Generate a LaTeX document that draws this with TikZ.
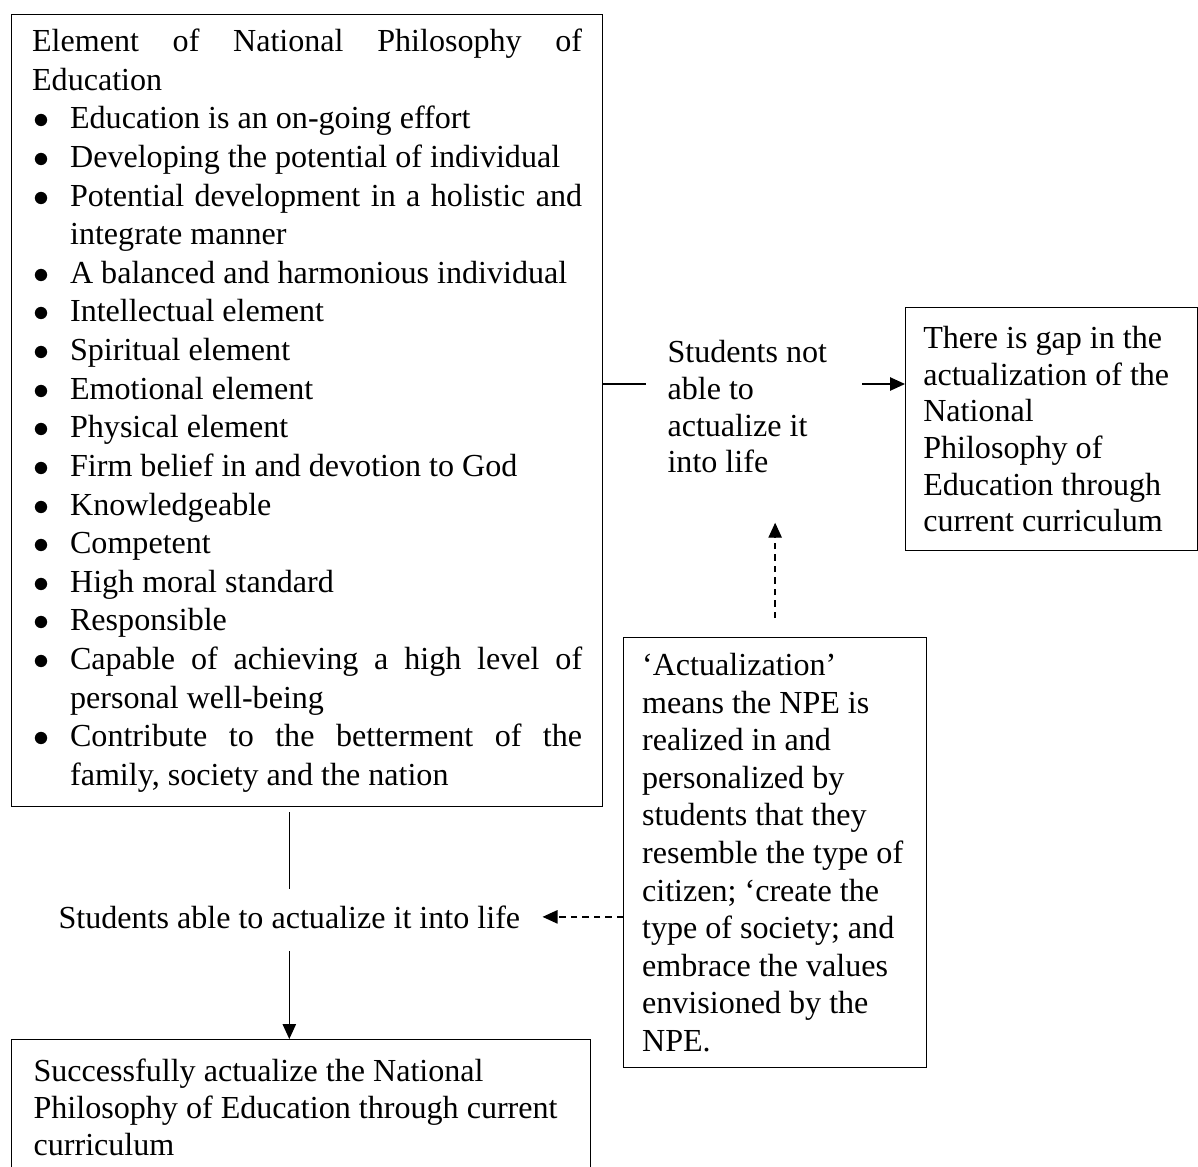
\documentclass[tikz,border=0pt]{standalone}
\usepackage{fontspec}
\setmainfont{Liberation Serif}
\usepackage{tikz}
\usetikzlibrary{arrows.meta, positioning}
\setlength{\parindent}{0pt}
\setlength{\parskip}{0pt}
\hbadness=10000
\newcommand{\blt}{\par\noindent\hangindent=14.2pt\hangafter=1%
  \hbox to 14.2pt{\hspace{0.4pt}$\bullet$\hfil}}
\tikzset{
  elem/.style={rectangle, draw, line width=0.5pt, anchor=north west,
    align=justify, text width=205.7pt, inner xsep=7.65pt, inner ysep=0pt,
    minimum height=296.2pt, font=\fontsize{12pt}{14.44pt}\selectfont},
  result/.style={rectangle, draw, line width=0.5pt, anchor=north west,
    align=flush left, text width=96pt, inner xsep=6.58pt, inner ysep=0pt,
    minimum height=90.9pt, font=\fontsize{12pt}{13.73pt}\selectfont},
  defn/.style={rectangle, draw, line width=0.5pt, anchor=north west,
    align=flush left, text width=99.5pt, inner xsep=6.9pt, inner ysep=0pt,
    minimum height=160.8pt, font=\fontsize{12pt}{14.06pt}\selectfont},
  done/.style={rectangle, draw, line width=0.5pt, anchor=north west,
    align=flush left, text width=200pt, inner xsep=8.2pt, inner ysep=7.1pt,
    font=\fontsize{12pt}{13.84pt}\selectfont},
  note/.style={inner sep=0pt, align=left,
    font=\fontsize{12pt}{13.73pt}\selectfont},
  link/.style={line width=0.5pt},
  arrow/.style={-{Triangle[length=5.6pt, width=5pt]}, line width=0.5pt},
  dasharrow/.style={arrow, dash pattern=on 2.4pt off 1.9pt}
}
\begin{document}
\begin{tikzpicture}[x=0.374pt, y=-0.374pt]
  \useasboundingbox (0,0) rectangle (1198,1166);
  \node[elem] (npe) at (11,14) {Element of National Philosophy of\linebreak Education
    \blt Education is an on-going effort
    \blt Developing the potential of individual
    \blt Potential development in a holistic and\linebreak integrate manner
    \blt A balanced and harmonious individual
    \blt Intellectual element
    \blt Spiritual element
    \blt Emotional element
    \blt Physical element
    \blt Firm belief in and devotion to God
    \blt Knowledgeable
    \blt Competent
    \blt High moral standard
    \blt Responsible
    \blt Capable of achieving a high level of\linebreak personal well-being
    \blt Contribute to the betterment of the\linebreak family, society and the nation\par};
  \node[note, anchor=north west] (notable) at (667,340)
    {Students not\\able to\\actualize it\\into life};
  \node[result] (gap) at (905,307)
    {There is gap in the\\actualization of the\\National\\Philosophy of\\Education through\\current curriculum};
  \node[defn] (actual) at (623,637)
    {‘Actualization’\\means the NPE is\\realized in and\\personalized by\\students that they\\resemble the type of\\citizen; ‘create the\\type of society; and\\embrace the values\\envisioned by the\\NPE.};
  \node[note, anchor=base west] (able) at (58,928)
    {Students able to actualize it into life};
  \node[done] (success) at (11,1039)
    {Successfully actualize the National\\Philosophy of Education through current\\curriculum};
  \coordinate (lvl) at (0,384);
  \draw[link, shorten >=7.9pt] (npe.east |- lvl) -- (notable.west |- lvl);
  \draw[arrow, shorten <=13pt] (notable.east |- lvl) -- (gap.west |- lvl);
  \draw[dasharrow, shorten <=7.1pt, shorten >=18.3pt] (actual.north) -- (actual.north |- notable.south);
  \draw[dasharrow, shorten >=8.2pt] (actual.west |- able.east) -- (able.east);
  \draw[link, shorten <=1.9pt, shorten >=6pt] (npe.south -| able.north) -- (able.north);
  \draw[arrow, shorten <=8.2pt] (able.south) -- (success.north -| able.south);
\end{tikzpicture}
\end{document}
